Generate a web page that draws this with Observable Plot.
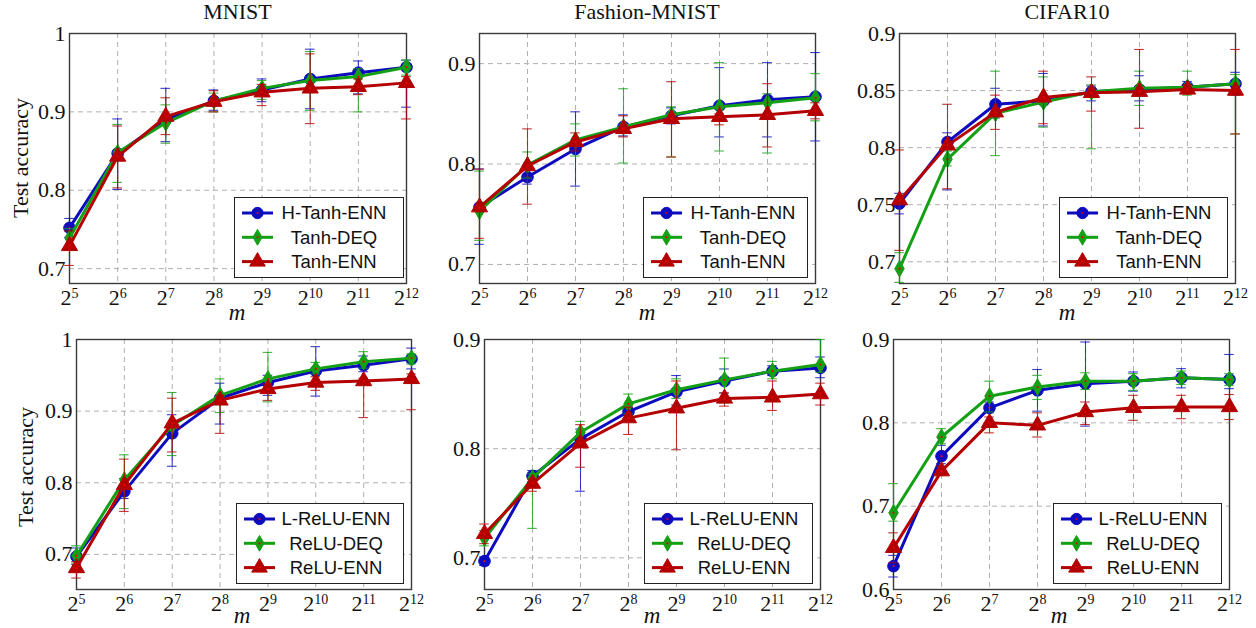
<!DOCTYPE html>
<html><head><meta charset="utf-8">
<script src="https://cdn.jsdelivr.net/npm/d3@7"></script>
<script src="https://cdn.jsdelivr.net/npm/@observablehq/plot@0.6"></script>
<style>
body{margin:0;background:#fff;}
#root{position:relative;width:1256px;height:628px;overflow:hidden;background:#fff;}
.abs{position:absolute;white-space:nowrap;}
.serif{font-family:"Liberation Serif","DejaVu Serif",serif;color:#111;}
.c{transform:translate(-50%,-50%);}
.rot{transform:translate(-50%,-50%) rotate(-90deg);}
.legend{position:absolute;border:1.3px solid #222;background:#fff;box-sizing:border-box;}
</style>
</head><body><div id="root"></div>
<script>
// ---------- data ----------
const exponents = [5, 6, 7, 8, 9, 10, 11, 12];

const titles = ["MNIST", "Fashion-MNIST", "CIFAR10"];
const tanhNames = ["H-Tanh-ENN", "Tanh-DEQ", "Tanh-ENN"];
const reluNames = ["L-ReLU-ENN", "ReLU-DEQ", "ReLU-ENN"];

const yTicksMnist = [0.7, 0.8, 0.9, 1];
const yTicksFashion = [0.7, 0.8, 0.9];
const yTicksCifarTanh = [0.7, 0.75, 0.8, 0.85, 0.9];
const yTicksCifarRelu = [0.6, 0.7, 0.8, 0.9];

// MNIST – Tanh
const mnistTanhA = [0.752, 0.847, 0.890, 0.914, 0.928, 0.942, 0.950, 0.957];
const mnistTanhA_lo = [0.740, 0.801, 0.862, 0.902, 0.913, 0.904, 0.923, 0.906];
const mnistTanhA_hi = [0.764, 0.891, 0.930, 0.928, 0.942, 0.980, 0.965, 0.966];
const mnistTanhB = [0.739, 0.848, 0.886, 0.914, 0.930, 0.940, 0.945, 0.957];
const mnistTanhB_lo = [0.727, 0.810, 0.860, 0.900, 0.916, 0.902, 0.900, 0.947];
const mnistTanhB_hi = [0.751, 0.884, 0.909, 0.924, 0.940, 0.977, 0.955, 0.966];
const mnistTanhC = [0.729, 0.843, 0.894, 0.913, 0.925, 0.930, 0.932, 0.937];
const mnistTanhC_lo = [0.704, 0.803, 0.871, 0.900, 0.908, 0.885, 0.922, 0.891];
const mnistTanhC_hi = [0.748, 0.882, 0.918, 0.927, 0.935, 0.974, 0.942, 0.945];

// Fashion-MNIST – Tanh
const fashionTanhA = [0.757, 0.787, 0.815, 0.837, 0.848, 0.858, 0.864, 0.867];
const fashionTanhA_lo = [0.720, 0.780, 0.778, 0.828, 0.840, 0.827, 0.827, 0.823];
const fashionTanhA_hi = [0.795, 0.795, 0.852, 0.849, 0.856, 0.896, 0.901, 0.911];
const fashionTanhB = [0.753, 0.799, 0.824, 0.837, 0.849, 0.857, 0.861, 0.866];
const fashionTanhB_lo = [0.724, 0.786, 0.808, 0.801, 0.807, 0.813, 0.811, 0.843];
const fashionTanhB_hi = [0.793, 0.812, 0.840, 0.875, 0.857, 0.901, 0.870, 0.890];
const fashionTanhC = [0.757, 0.798, 0.822, 0.835, 0.845, 0.847, 0.849, 0.853];
const fashionTanhC_lo = [0.726, 0.760, 0.813, 0.827, 0.807, 0.839, 0.817, 0.845];
const fashionTanhC_hi = [0.795, 0.835, 0.831, 0.848, 0.882, 0.850, 0.880, 0.861];

// CIFAR10 – Tanh
const cifarTanhA = [0.751, 0.805, 0.838, 0.841, 0.849, 0.851, 0.853, 0.856];
const cifarTanhA_lo = [0.742, 0.763, 0.826, 0.819, 0.841, 0.841, 0.848, 0.846];
const cifarTanhA_hi = [0.760, 0.813, 0.852, 0.865, 0.854, 0.863, 0.858, 0.866];
const cifarTanhB = [0.694, 0.790, 0.830, 0.840, 0.849, 0.852, 0.853, 0.856];
const cifarTanhB_lo = [0.682, 0.784, 0.793, 0.818, 0.799, 0.837, 0.846, 0.812];
const cifarTanhB_hi = [0.708, 0.797, 0.867, 0.862, 0.855, 0.867, 0.867, 0.864];
const cifarTanhC = [0.754, 0.802, 0.831, 0.844, 0.848, 0.849, 0.851, 0.850];
const cifarTanhC_lo = [0.710, 0.764, 0.816, 0.821, 0.832, 0.817, 0.847, 0.812];
const cifarTanhC_hi = [0.798, 0.838, 0.846, 0.867, 0.862, 0.886, 0.855, 0.886];

// MNIST – ReLU
const mnistReluA = [0.697, 0.788, 0.869, 0.918, 0.940, 0.956, 0.964, 0.973];
const mnistReluA_lo = [0.686, 0.778, 0.823, 0.882, 0.922, 0.921, 0.955, 0.959];
const mnistReluA_hi = [0.709, 0.806, 0.895, 0.939, 0.950, 0.990, 0.977, 0.988];
const mnistReluB = [0.698, 0.804, 0.880, 0.922, 0.945, 0.959, 0.969, 0.974];
const mnistReluB_lo = [0.688, 0.764, 0.838, 0.898, 0.913, 0.952, 0.960, 0.966];
const mnistReluB_hi = [0.712, 0.839, 0.926, 0.945, 0.982, 0.968, 0.983, 0.980];
const mnistReluC = [0.681, 0.797, 0.883, 0.915, 0.931, 0.940, 0.942, 0.945];
const mnistReluC_lo = [0.667, 0.760, 0.843, 0.869, 0.915, 0.929, 0.891, 0.902];
const mnistReluC_hi = [0.690, 0.833, 0.918, 0.922, 0.938, 0.948, 0.946, 0.952];

// Fashion-MNIST – ReLU
const fashionReluA = [0.697, 0.775, 0.809, 0.834, 0.852, 0.862, 0.871, 0.874];
const fashionReluA_lo = [0.693, 0.770, 0.761, 0.828, 0.840, 0.851, 0.867, 0.865];
const fashionReluA_hi = [0.701, 0.780, 0.818, 0.838, 0.867, 0.873, 0.876, 0.884];
const fashionReluB = [0.718, 0.773, 0.815, 0.841, 0.854, 0.863, 0.871, 0.877];
const fashionReluB_lo = [0.711, 0.727, 0.805, 0.832, 0.846, 0.842, 0.864, 0.870];
const fashionReluB_hi = [0.725, 0.777, 0.825, 0.850, 0.864, 0.883, 0.880, 0.900];
const fashionReluC = [0.722, 0.768, 0.805, 0.828, 0.837, 0.846, 0.847, 0.850];
const fashionReluC_lo = [0.713, 0.761, 0.783, 0.813, 0.799, 0.839, 0.835, 0.840];
const fashionReluC_hi = [0.731, 0.772, 0.822, 0.838, 0.862, 0.851, 0.862, 0.860];

// CIFAR10 – ReLU
const cifarReluA = [0.628, 0.760, 0.818, 0.839, 0.847, 0.850, 0.854, 0.852];
const cifarReluA_lo = [0.615, 0.751, 0.812, 0.814, 0.796, 0.838, 0.842, 0.841];
const cifarReluA_hi = [0.641, 0.773, 0.825, 0.864, 0.897, 0.861, 0.865, 0.882];
const cifarReluB = [0.692, 0.783, 0.832, 0.843, 0.850, 0.850, 0.854, 0.852];
const cifarReluB_lo = [0.682, 0.775, 0.813, 0.828, 0.840, 0.839, 0.846, 0.845];
const cifarReluB_hi = [0.727, 0.793, 0.850, 0.857, 0.860, 0.859, 0.862, 0.859];
const cifarReluC = [0.650, 0.742, 0.800, 0.797, 0.813, 0.818, 0.819, 0.819];
const cifarReluC_lo = [0.632, 0.737, 0.788, 0.783, 0.798, 0.803, 0.805, 0.804];
const cifarReluC_hi = [0.668, 0.748, 0.807, 0.812, 0.825, 0.833, 0.833, 0.834];

// ---------- styles ----------
const seriesStyle = [
  {color: "#0c0cbe", symbol: "circle", r: 5.8, legendSize: 100},
  {color: "#14a014", symbol: "diamond", r: 5.0, legendSize: 72},
  {color: "#b40000", symbol: "triangle", r: 6.0, legendSize: 105}
];
const serif = '"Liberation Serif","DejaVu Serif",serif';
const sans = '"Liberation Sans",Arial,sans-serif';

const panels = [
  {title: titles[0], names: tanhNames, frame: [69, 406, 33, 283], yDomain: [0.681, 1.0], yTicks: yTicksMnist,
   data: [[mnistTanhA, mnistTanhA_lo, mnistTanhA_hi], [mnistTanhB, mnistTanhB_lo, mnistTanhB_hi], [mnistTanhC, mnistTanhC_lo, mnistTanhC_hi]],
   legend: [234, 197, 170, 81], ylabel: [21, 158], mlabel: [237, 313]},
  {title: titles[1], names: tanhNames, frame: [479, 815, 33, 283], yDomain: [0.681, 0.93], yTicks: yTicksFashion,
   data: [[fashionTanhA, fashionTanhA_lo, fashionTanhA_hi], [fashionTanhB, fashionTanhB_lo, fashionTanhB_hi], [fashionTanhC, fashionTanhC_lo, fashionTanhC_hi]],
   legend: [643, 197, 165, 81], mlabel: [647, 313]},
  {title: titles[2], names: tanhNames, frame: [899, 1235, 33, 283], yDomain: [0.681, 0.9], yTicks: yTicksCifarTanh,
   data: [[cifarTanhA, cifarTanhA_lo, cifarTanhA_hi], [cifarTanhB, cifarTanhB_lo, cifarTanhB_hi], [cifarTanhC, cifarTanhC_lo, cifarTanhC_hi]],
   legend: [1059, 197, 169, 81], mlabel: [1067, 313]},
  {names: reluNames, frame: [76, 411, 339, 589], yDomain: [0.651, 1.0], yTicks: yTicksMnist,
   data: [[mnistReluA, mnistReluA_lo, mnistReluA_hi], [mnistReluB, mnistReluB_lo, mnistReluB_hi], [mnistReluC, mnistReluC_lo, mnistReluC_hi]],
   legend: [236, 503, 168, 81], ylabel: [26, 467], mlabel: [242, 616]},
  {names: reluNames, frame: [484, 820, 339, 589], yDomain: [0.671, 0.9], yTicks: yTicksFashion,
   data: [[fashionReluA, fashionReluA_lo, fashionReluA_hi], [fashionReluB, fashionReluB_lo, fashionReluB_hi], [fashionReluC, fashionReluC_lo, fashionReluC_hi]],
   legend: [644, 503, 169, 81], mlabel: [652, 616]},
  {names: reluNames, frame: [893, 1229, 339, 589], yDomain: [0.6, 0.9], yTicks: yTicksCifarRelu,
   data: [[cifarReluA, cifarReluA_lo, cifarReluA_hi], [cifarReluB, cifarReluB_lo, cifarReluB_hi], [cifarReluC, cifarReluC_lo, cifarReluC_hi]],
   legend: [1053, 503, 169, 81], mlabel: [1059, 616]}
];

const root = document.getElementById("root");

function addText(txt, x, y, cls, css) {
  const d = document.createElement("div");
  d.className = "abs " + cls;
  d.textContent = txt;
  d.style.left = x + "px";
  d.style.top = y + "px";
  Object.assign(d.style, css || {});
  root.appendChild(d);
  return d;
}

panels.forEach(p => {
  const [x0, x1, y0, y1] = p.frame;
  const ml = 70, mr = 20, mt = 20, mb = 45;
  const marks = [
    Plot.gridX(exponents, {stroke: "#b0b0b0", strokeOpacity: 1, strokeWidth: 1, strokeDasharray: "5,4"}),
    Plot.gridY(p.yTicks, {stroke: "#b0b0b0", strokeOpacity: 1, strokeWidth: 1, strokeDasharray: "5,4"}),
    Plot.frame({stroke: "#3a3a3a", strokeWidth: 1.4}),
    Plot.axisY(p.yTicks, {tickSize: 0, tickPadding: 4, tickFormat: d => String(d), fontSize: 22, label: null}),
    Plot.axisX(exponents, {tickSize: 0, tickPadding: 6, tickFormat: d => String(d), fontSize: 22, label: null})
  ];
  p.data.forEach((s, k) => {
    const st = seriesStyle[k];
    const rows = exponents.map((e, i) => ({e, v: s[0][i], lo: s[1][i], hi: s[2][i]}));
    marks.push(
      Plot.ruleX(rows, {x: "e", y1: "lo", y2: "hi", stroke: st.color, strokeWidth: 1.1, strokeOpacity: 0.8}),
      Plot.ruleY(rows, {y: "lo", x1: d => d.e - 0.1, x2: d => d.e + 0.1, stroke: st.color, strokeWidth: 1.1, strokeOpacity: 0.8}),
      Plot.ruleY(rows, {y: "hi", x1: d => d.e - 0.1, x2: d => d.e + 0.1, stroke: st.color, strokeWidth: 1.1, strokeOpacity: 0.8}),
      Plot.line(rows, {x: "e", y: "v", stroke: st.color, strokeWidth: 3}),
      Plot.dot(rows, {x: "e", y: "v", symbol: st.symbol, r: st.r, fill: st.color, stroke: st.color, strokeWidth: 1}),
      Plot.dot(rows, {x: "e", y: "v", r: 1.1, fill: "#e80000", stroke: "none"})
    );
  });
  const svg = Plot.plot({
    width: ml + (x1 - x0) + mr,
    height: mt + (y1 - y0) + mb,
    marginLeft: ml, marginRight: mr, marginTop: mt, marginBottom: mb,
    x: {domain: [5, 12]},
    y: {domain: p.yDomain},
    style: {fontFamily: serif, fontSize: "22px", color: "#111", background: "transparent", overflow: "visible"},
    marks
  });
  // superscript exponents on the x tick labels: 2^k
  d3.select(svg).selectAll('g[aria-label="x-axis tick label"] text').each(function() {
    const e = this.textContent;
    const t = d3.select(this);
    t.text(null);
    t.append("tspan").text("2");
    t.append("tspan").attr("dy", -7).attr("font-size", 14).text(e);
  });
  svg.style.position = "absolute";
  svg.style.left = (x0 - ml) + "px";
  svg.style.top = (y0 - mt) + "px";
  root.appendChild(svg);

  // titles / labels
  if (p.title) addText(p.title, (x0 + x1) / 2, 12, "serif c", {fontSize: "22px"});
  addText("m", p.mlabel[0], p.mlabel[1], "serif c", {fontSize: "23px", fontStyle: "italic"});
  if (p.ylabel) addText("Test accuracy", p.ylabel[0], p.ylabel[1], "serif rot", {fontSize: "22px"});

  // legend
  const [lx, ly, lw, lh] = p.legend;
  const box = document.createElement("div");
  box.className = "legend";
  Object.assign(box.style, {left: lx + "px", top: ly + "px", width: lw + "px", height: lh + "px"});
  const lsvg = d3.create("svg").attr("width", lw).attr("height", lh).style("position", "absolute").style("left", "-1px").style("top", "-1px");
  const symbols = {circle: d3.symbolCircle, diamond: d3.symbolDiamond, triangle: d3.symbolTriangle};
  p.names.forEach((name, k) => {
    const st = seriesStyle[k];
    const cy = 16 + k * 24.3;
    const g = lsvg.append("g");
    g.append("line").attr("x1", 8).attr("x2", 39).attr("y1", cy).attr("y2", cy).attr("stroke", st.color).attr("stroke-width", 3);
    g.append("path").attr("d", d3.symbol(symbols[st.symbol], st.legendSize)()).attr("transform", `translate(23.5,${cy})`)
      .attr("fill", st.color).attr("stroke", st.color);
    g.append("circle").attr("cx", 23.5).attr("cy", cy).attr("r", 1.1).attr("fill", "#e80000");
    g.append("text").attr("x", 100).attr("y", cy).attr("dy", "0.35em").attr("text-anchor", "middle")
      .attr("font-family", sans).attr("font-size", 18.5).attr("fill", "#111").text(name);
  });
  box.appendChild(lsvg.node());
  root.appendChild(box);
});
</script>
</body></html>
